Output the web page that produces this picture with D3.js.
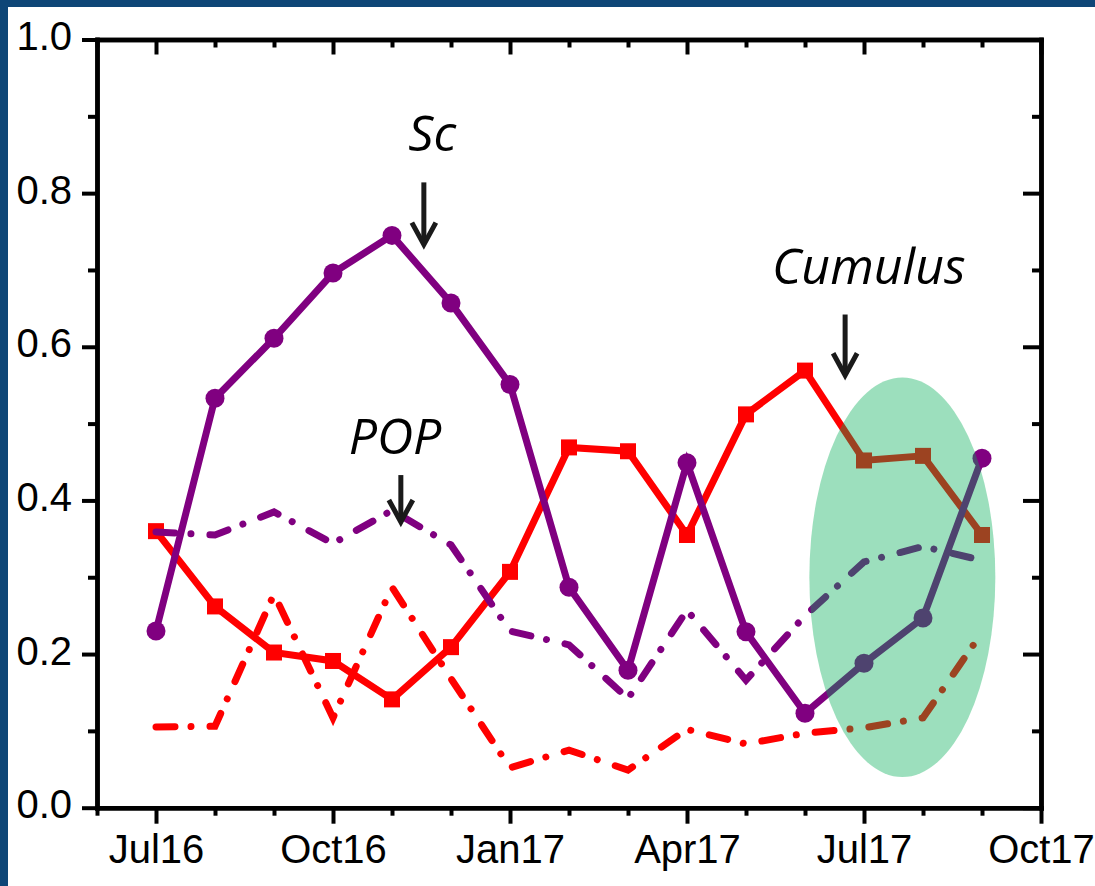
<!DOCTYPE html>
<html>
<head>
<meta charset="utf-8">
<script src="https://cdn.jsdelivr.net/npm/d3@7"></script>
<style>
  body { margin: 0; background: #fff; }
  svg { display: block; }
  .axis path, .axis line { stroke: #000; }
  .axis path { stroke-width: 4.5; stroke-linecap: square; }
  .axis line { stroke-width: 4; }
  .axis text { font-family: "Liberation Sans", Arial, sans-serif; font-size: 40px; fill: #000; }
  .note { font-family: "Open Sans", "Noto Sans", sans-serif; font-style: italic; font-size: 50px; fill: #000; }
</style>
</head>
<body>
<div id="chart"></div>
<script>
// months Jul16 .. Sep17 sit at x index 1..15 (index 0 = Jun16, 16 = Oct17)
var months = ["Jul16", "Aug16", "Sep16", "Oct16", "Nov16", "Dec16", "Jan17",
  "Feb17", "Mar17", "Apr17", "May17", "Jun17", "Jul17", "Aug17", "Sep17"];

var xMajor = [1, 4, 7, 10, 13, 16];
var xLabels = ["Jul16", "Oct16", "Jan17", "Apr17", "Jul17", "Oct17"];
var xMinor = [0, 2, 3, 5, 6, 8, 9, 11, 12, 14, 15];
var yMajor = [0, 0.2, 0.4, 0.6, 0.8, 1.0];
var yMinor = [0.1, 0.3, 0.5, 0.7, 0.9];

// purple solid, circles (Sc)
var scSolid = [0.230, 0.533, 0.611, 0.696, 0.745, 0.657, 0.551, 0.287, 0.179, 0.449, 0.229, 0.123, 0.188, 0.247, 0.455];
// red solid, squares (Cumulus)
var cuSolid = [0.360, 0.262, 0.202, 0.191, 0.141, 0.209, 0.307, 0.469, 0.464, 0.355, 0.512, 0.569, 0.452, 0.458, 0.355];
// purple dash-dot (POP)
var scDash = [0.359, 0.355, 0.385, 0.344, 0.387, 0.342, 0.230, 0.212, 0.142, 0.257, 0.166, 0.250, 0.320, 0.340, 0.322];
// red dash-dot
var cuDash = [0.105, 0.106, 0.278, 0.117, 0.287, 0.168, 0.052, 0.075, 0.049, 0.102, 0.083, 0.097, 0.104, 0.117, 0.228];

// highlight ellipse (x in month index, y in value)
var highlight = { cx: 13.65, cy: 0.300, rx: 1.576, ry: 0.260 };

// annotations: label, text x / baseline, arrow x, arrow start, arrow tip
var notes = [
  { label: "Sc", tx: 5.68, ty: 0.855, ax: 5.54, y1: 0.814, y2: 0.733 },
  { label: "POP", tx: 5.05, ty: 0.460, ax: 5.15, y1: 0.433, y2: 0.372 },
  { label: "Cumulus", tx: 13.08, ty: 0.682, ax: 12.68, y1: 0.642, y2: 0.563 }
];

var width = 1095;
var height = 886;

var svg = d3.select("#chart")
  .append("svg")
  .attr("width", width)
  .attr("height", height);

svg.append("rect").attr("width", width).attr("height", height).attr("fill", "#fff");
//blue frame on top and left
svg.append("rect").attr("x", 0).attr("y", 0).attr("width", width).attr("height", 7).attr("fill", "#0e4677");
svg.append("rect").attr("x", 0).attr("y", 0).attr("width", 8).attr("height", height).attr("fill", "#0e4677");

var x = d3.scaleLinear().domain([0, 16]).range([97, 1041]);
var y = d3.scaleLinear().domain([0, 1]).range([807.7, 39.5]);

var line = d3.line()
  .x(function(d, i) { return x(i + 1); })
  .y(function(d) { return y(d); });

var lw = 7;
var dashDot = "19,16,0.01,19";

//dash-dot lines
svg.append("path").datum(cuDash)
  .attr("d", line).attr("fill", "none")
  .attr("stroke", "#ff0000").attr("stroke-width", lw)
  .attr("stroke-linecap", "round").attr("stroke-dasharray", dashDot);

//red solid with squares
svg.append("path").datum(cuSolid)
  .attr("d", line).attr("fill", "none")
  .attr("stroke", "#ff0000").attr("stroke-width", lw);
svg.selectAll(".sq").data(cuSolid).enter().append("rect")
  .attr("class", "sq")
  .attr("x", function(d, i) { return x(i + 1) - 8; })
  .attr("y", function(d) { return y(d) - 8; })
  .attr("width", 16).attr("height", 16)
  .attr("fill", "#ff0000");

svg.append("path").datum(scDash)
  .attr("d", line).attr("fill", "none")
  .attr("stroke", "#800080").attr("stroke-width", lw)
  .attr("stroke-linecap", "round").attr("stroke-dasharray", dashDot);

//purple solid with circles
svg.append("path").datum(scSolid)
  .attr("d", line).attr("fill", "none")
  .attr("stroke", "#800080").attr("stroke-width", lw);
svg.selectAll(".dot").data(scSolid).enter().append("circle")
  .attr("class", "dot")
  .attr("cx", function(d, i) { return x(i + 1); })
  .attr("cy", function(d) { return y(d); })
  .attr("r", 9.5)
  .attr("fill", "#800080");

//green highlight over the summer months
svg.append("ellipse")
  .attr("cx", x(highlight.cx))
  .attr("cy", y(highlight.cy))
  .attr("rx", x(highlight.cx + highlight.rx) - x(highlight.cx))
  .attr("ry", y(0) - y(highlight.ry))
  .attr("fill", "rgb(0,173,86)")
  .attr("fill-opacity", 0.39);

//axes
function addAxis(axis, tx, ty) {
  var g = svg.append("g").attr("class", "axis")
    .attr("transform", "translate(" + tx + "," + ty + ")")
    .call(axis);
  return g;
}

addAxis(d3.axisBottom(x).tickValues(xMinor).tickSizeInner(8).tickSizeOuter(0).tickFormat(""), 0, y(0));
var bottom = addAxis(d3.axisBottom(x).tickValues(xMajor).tickSizeInner(16).tickSizeOuter(0)
  .tickPadding(11)
  .tickFormat(function(d) { return xLabels[xMajor.indexOf(d)]; }), 0, y(0));

addAxis(d3.axisTop(x).tickValues(xMinor).tickSizeInner(-8).tickSizeOuter(0).tickFormat(""), 0, y(1));
addAxis(d3.axisTop(x).tickValues(xMajor).tickSizeInner(-15).tickSizeOuter(0).tickFormat(""), 0, y(1));

addAxis(d3.axisLeft(y).tickValues(yMinor).tickSizeInner(9).tickSizeOuter(0).tickFormat(""), x(0), 0);
var left = addAxis(d3.axisLeft(y).tickValues(yMajor).tickSizeInner(15).tickSizeOuter(0)
  .tickPadding(10).tickFormat(d3.format(".1f")), x(0), 0);
left.selectAll("text").attr("dy", "0.25em");

addAxis(d3.axisRight(y).tickValues(yMinor).tickSizeInner(-9).tickSizeOuter(0).tickFormat(""), x(16), 0);
addAxis(d3.axisRight(y).tickValues(yMajor).tickSizeInner(-18).tickSizeOuter(0).tickFormat(""), x(16), 0);

//annotations with arrows
notes.forEach(function(n) {
  svg.append("text").attr("class", "note")
    .attr("x", x(n.tx)).attr("y", y(n.ty))
    .attr("text-anchor", "middle")
    .text(n.label);
  var ax = x(n.ax), y1 = y(n.y1), y2 = y(n.y2);
  svg.append("line")
    .attr("x1", ax).attr("x2", ax)
    .attr("y1", y1).attr("y2", y2 - 3)
    .attr("stroke", "#1a1a1a").attr("stroke-width", 5);
  svg.append("path")
    .attr("d", "M" + (ax - 12) + "," + (y2 - 22) + "L" + ax + "," + y2 + "L" + (ax + 12) + "," + (y2 - 22))
    .attr("fill", "none")
    .attr("stroke", "#1a1a1a").attr("stroke-width", 5)
    .attr("stroke-linejoin", "miter");
});
</script>
</body>
</html>
